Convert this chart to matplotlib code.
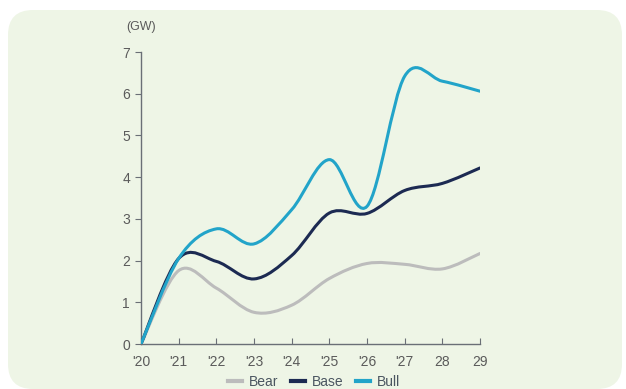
import matplotlib
matplotlib.use('Agg')
import matplotlib.pyplot as plt
from matplotlib.patches import FancyBboxPatch, PathPatch
from matplotlib.path import Path
from matplotlib.lines import Line2D
import numpy as np

# data (GW)
years = [2020, 2021, 2022, 2023, 2024, 2025, 2026, 2027, 2028, 2029]
year_labels = ["'20", "'21", "'22", "'23", "'24", "'25", "'26", "'27", "28", "29"]
bear = [0.0, 1.76, 1.34, 0.76, 0.93, 1.57, 1.93, 1.91, 1.80, 2.17]
base = [0.0, 2.05, 1.98, 1.56, 2.12, 3.14, 3.13, 3.68, 3.85, 4.22]
bull = [0.0, 2.05, 2.76, 2.40, 3.22, 4.42, 3.30, 6.42, 6.30, 6.06]

series = [('Bear', bear, '#bcbcbc'), ('Base', base, '#1c2a52'), ('Bull', bull, '#22a4c9')]


def smooth_path(x, y):
    # catmull-rom through the points, drawn as cubic bezier segments
    p = np.column_stack([x, y]).astype(float)
    pts = np.vstack([p[0], p, p[-1]])
    verts = [p[0]]
    codes = [Path.MOVETO]
    for i in range(1, len(pts) - 2):
        p0, p1, p2, p3 = pts[i - 1], pts[i], pts[i + 1], pts[i + 2]
        verts += [p1 + (p2 - p0) / 6, p2 - (p3 - p1) / 6, p2]
        codes += [Path.CURVE4] * 3
    return Path(verts, codes)


fig = plt.figure(figsize=(6.26, 3.89), dpi=100)
fig.patch.set_facecolor('white')

# rounded card behind the chart
card = FancyBboxPatch((8 / 626, 0.0), 614 / 626, 379 / 389,
                      boxstyle='round,pad=0,rounding_size=0.04',
                      transform=fig.transFigure, facecolor='#eef5e6',
                      edgecolor='none', zorder=-5, mutation_aspect=626 / 389)
fig.patches.append(card)

ax = fig.add_axes([141 / 626, 1 - 344 / 389, 339 / 626, 292 / 389])
ax.set_facecolor('none')
ax.set_zorder(2)

for name, vals, col in series:
    patch = PathPatch(smooth_path(years, vals), facecolor='none', edgecolor=col,
                      lw=2.2, capstyle='round', joinstyle='round', zorder=3)
    ax.add_patch(patch)

ax.set_xlim(2020, 2029)
ax.set_ylim(0, 7)
ax.set_xticks(years)
ax.set_xticklabels(year_labels)
ax.set_yticks(range(0, 8))

for s in ['top', 'right']:
    ax.spines[s].set_visible(False)
for s in ['left', 'bottom']:
    ax.spines[s].set_color('#6a6f76')
    ax.spines[s].set_linewidth(1.0)

ax.tick_params(axis='x', direction='in', length=4, color='#6a6f76', pad=8,
               labelsize=10, labelcolor='#5a5a5a')
ax.tick_params(axis='y', direction='out', length=4, color='#6a6f76', pad=4,
               labelsize=10, labelcolor='#5a5a5a')
for lab in ax.get_xticklabels() + ax.get_yticklabels():
    lab.set_family('Liberation Sans')

fig.text(141 / 626, 1 - 27 / 389, '(GW)', ha='center', va='center',
         fontsize=9, color='#5a5a5a', family='Liberation Sans')

handles = [Line2D([0], [0], color=c, lw=3) for _, _, c in series]
leg = fig.legend(handles, [n for n, _, _ in series], loc='center', ncol=3,
                 bbox_to_anchor=(314 / 626, 1 - 382 / 389), frameon=False,
                 handlelength=1.0, handletextpad=0.5, columnspacing=0.9,
                 prop={'family': 'Liberation Sans', 'size': 10})
for t in leg.get_texts():
    t.set_color('#4a5560')

fig.savefig('out.png', dpi=100, facecolor=fig.get_facecolor())
